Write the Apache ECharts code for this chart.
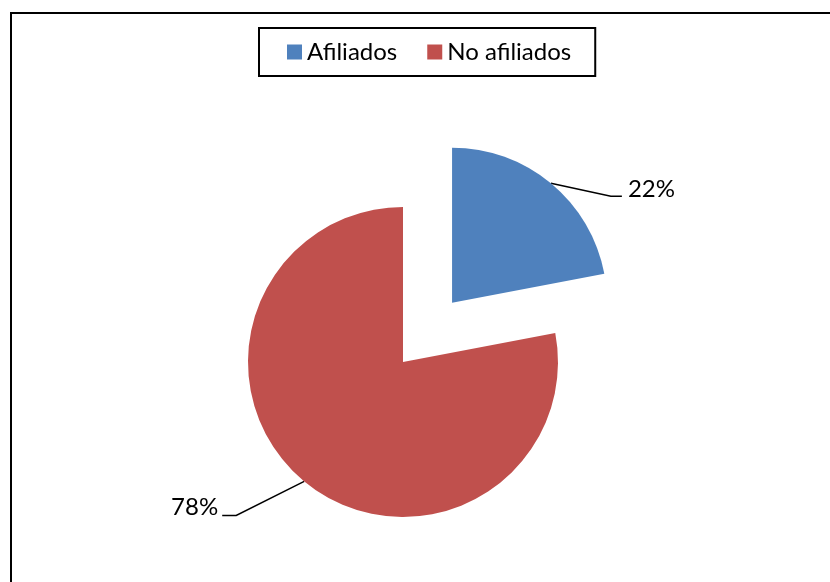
<!DOCTYPE html>
<html>
<head>
<meta charset="utf-8">
<script src="https://cdn.jsdelivr.net/npm/echarts@6/dist/echarts.min.js"></script>
<style>
  html, body { margin: 0; padding: 0; background: #fff; }
  #chart { width: 830px; height: 582px; }
</style>
</head>
<body>
<div id="chart"></div>
<script>
// datos del gráfico
const categories = ["Afiliados", "No afiliados"];
const values = [22, 78];
const colors = ["#4F81BD", "#C0504D"];

// desplazamiento de cada etiqueta respecto al borde del sector
const labelOffsets = [
  { line: [60, 13], end: [71, 13], text: [77, 6], align: "left" },
  { line: [-68, 34], end: [-82, 34], text: [-86, 26], align: "right" },
];

const pieCenter = [403, 362];
const pieRadius = 155;
const explode = 77; // separación del sector "Afiliados"

// centro del sector separado, calculado con el ángulo medio del sector
const total = values.reduce((a, b) => a + b, 0);
const midAngle = Math.PI / 2 - (values[0] / total) * Math.PI;
const explodedCenter = [
  pieCenter[0] + explode * Math.cos(midAngle),
  pieCenter[1] - explode * Math.sin(midAngle),
];

const myChart = echarts.init(document.getElementById("chart"));

function labelLayout(params) {
  const o = labelOffsets[params.dataIndex];
  const pts = params.labelLinePoints;
  if (!o || !pts || !pts[0]) return {};
  const p0 = pts[0];
  return {
    x: p0[0] + o.text[0],
    y: p0[1] + o.text[1],
    align: o.align,
    verticalAlign: "middle",
    labelLinePoints: [
      p0,
      [p0[0] + o.line[0], p0[1] + o.line[1]],
      [p0[0] + o.end[0], p0[1] + o.end[1]],
    ],
  };
}

// una serie por sector: el otro sector queda transparente
function pieSeries(visibleIndex, center) {
  return {
    type: "pie",
    name: categories[visibleIndex],
    center: center,
    radius: pieRadius,
    startAngle: 90,
    clockwise: true,
    emphasis: { disabled: true },
    silent: true,
    label: {
      show: true,
      formatter: "{d}%",
      fontSize: 24,
      color: "#000",
    },
    labelLine: {
      show: true,
      lineStyle: { color: "#000", width: 1.5 },
    },
    labelLayout: labelLayout,
    data: categories.map((name, i) => ({
      name: name,
      value: values[i],
      itemStyle: {
        color: i === visibleIndex ? colors[i] : "rgba(0,0,0,0)",
        borderWidth: 0,
      },
      label: { show: i === visibleIndex },
      labelLine: { show: i === visibleIndex },
    })),
  };
}

myChart.setOption({
  animation: false,
  textStyle: { fontFamily: "Lato, 'Open Sans', sans-serif" },
  // marco exterior
  graphic: [
    {
      type: "rect",
      shape: { x: 11, y: 13, width: 840, height: 600 },
      style: { fill: "none", stroke: "#000", lineWidth: 2 },
    },
  ],
  legend: {
    data: categories.map((name, i) => ({
      name: name,
      itemStyle: { color: colors[i] },
    })),
    left: 259,
    top: 28,
    icon: "rect",
    itemWidth: 15,
    itemHeight: 15,
    itemGap: 30,
    padding: [12, 24, 12, 28],
    borderColor: "#000",
    borderWidth: 2,
    selectedMode: false,
    textStyle: { fontSize: 24, color: "#000" },
  },
  series: [pieSeries(1, pieCenter), pieSeries(0, explodedCenter)],
});
</script>
</body>
</html>
